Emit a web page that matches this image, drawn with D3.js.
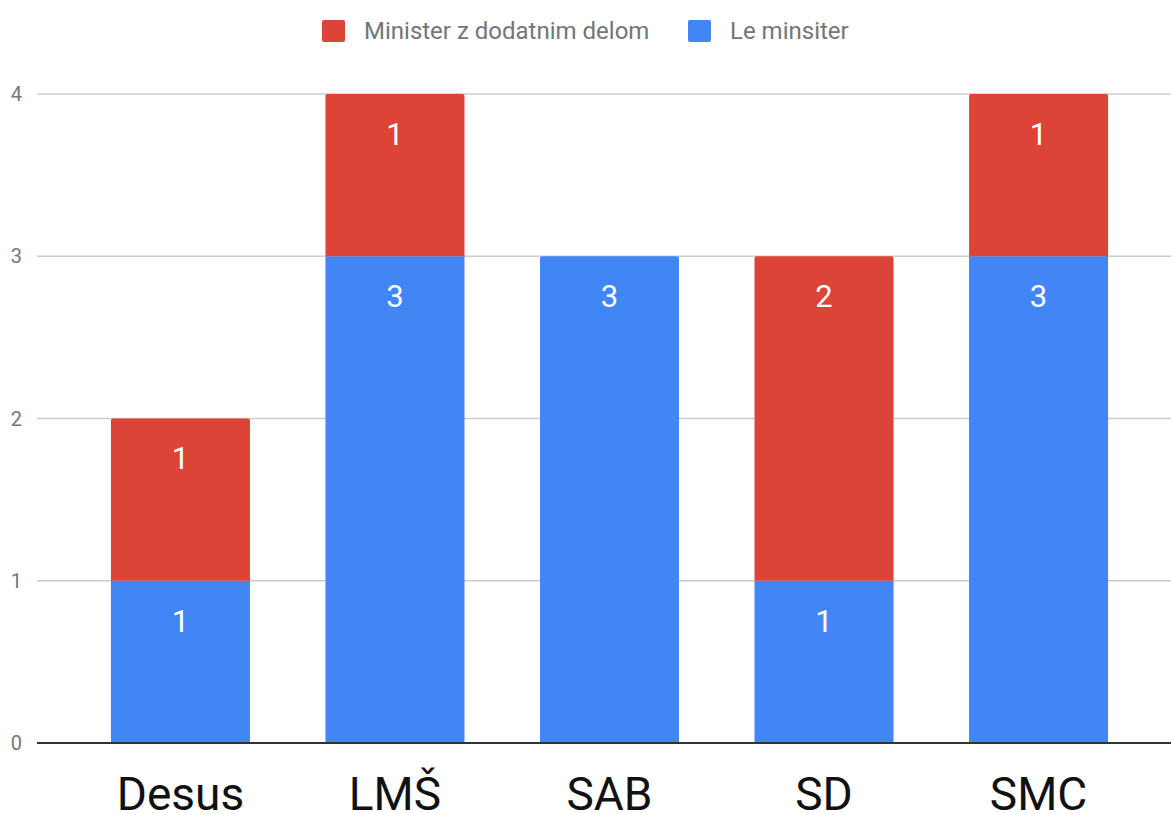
<!DOCTYPE html>
<html>
<head>
<meta charset="utf-8">
<script src="https://d3js.org/d3.v7.min.js"></script>
<style>
  body { margin: 0; background: #fff; font-family: Roboto, "Noto Sans", sans-serif; }
</style>
</head>
<body>
<script>
// chart data
var parties = ["Desus", "LMŠ", "SAB", "SD", "SMC"];
var leMinister = [1, 3, 3, 1, 3];
var dodatnimDelom = [1, 1, 0, 2, 1];
var seriesNames = ["Minister z dodatnim delom", "Le minsiter"];
var seriesColors = ["#db4437", "#4285f4"];
var yTicks = [0, 1, 2, 3, 4];

var width = 1171, height = 814;
var svg = d3.select("body").append("svg")
    .attr("width", width)
    .attr("height", height);

var x = d3.scaleBand().domain(parties).range([38, 1181]).paddingInner(0.352).paddingOuter(0.34);
var y = d3.scaleLinear().domain([0, 4]).range([743, 94]);

// gridlines + y labels
svg.selectAll(".grid").data(yTicks).enter().append("line")
    .attr("x1", 37).attr("x2", width)
    .attr("y1", function (d) { return y(d); })
    .attr("y2", function (d) { return y(d); })
    .attr("stroke", "#cccccc").attr("stroke-width", 1.5);

svg.selectAll(".ylab").data(yTicks).enter().append("text")
    .attr("x", 22).attr("y", function (d) { return y(d); })
    .attr("dy", "0.35em")
    .attr("text-anchor", "end")
    .style("font-size", "20px").style("fill", "#777")
    .text(function (d) { return d; });

// stacked rows
var rows = parties.map(function (p, i) {
  return { party: p, base: leMinister[i], extra: dodatnimDelom[i] };
});

function barPath(x0, y0, w, h, r) {
  // rounded top corners only
  return "M" + x0 + "," + (y0 + h) +
    "V" + (y0 + r) + "Q" + x0 + "," + y0 + " " + (x0 + r) + "," + y0 +
    "H" + (x0 + w - r) + "Q" + (x0 + w) + "," + y0 + " " + (x0 + w) + "," + (y0 + r) +
    "V" + (y0 + h) + "Z";
}

var bw = x.bandwidth();
rows.forEach(function (d) {
  var x0 = x(d.party);
  // blue (bottom)
  if (d.base > 0) {
    var top = y(d.base);
    svg.append("path")
      .attr("d", barPath(x0, top, bw, y(0) - top, d.extra > 0 ? 0 : 2))
      .attr("fill", seriesColors[1]);
    svg.append("text")
      .attr("x", x0 + bw / 2).attr("y", top + 40)
      .attr("dy", "0.35em").attr("text-anchor", "middle")
      .style("font-size", "31px").style("fill", "#fff")
      .text(d.base);
  }
  if (d.extra > 0) {
    var t2 = y(d.base + d.extra);
    svg.append("path")
      .attr("d", barPath(x0, t2, bw, y(d.base) - t2, 2))
      .attr("fill", seriesColors[0]);
    svg.append("text")
      .attr("x", x0 + bw / 2).attr("y", t2 + 40)
      .attr("dy", "0.35em").attr("text-anchor", "middle")
      .style("font-size", "31px").style("fill", "#fff")
      .text(d.extra);
  }
});

// baseline
svg.append("line")
  .attr("x1", 37).attr("x2", width)
  .attr("y1", y(0)).attr("y2", y(0))
  .attr("stroke", "#333").attr("stroke-width", 2);

// x labels
svg.selectAll(".xlab").data(parties).enter().append("text")
  .attr("x", function (d) { return x(d) + bw / 2; })
  .attr("y", 810)
  .attr("text-anchor", "middle")
  .style("font-size", "46px").style("fill", "#111")
  .text(function (d) { return d; });

// legend
var legX = [322, 688];
seriesNames.forEach(function (n, i) {
  svg.append("rect")
    .attr("x", legX[i]).attr("y", 20).attr("width", 23).attr("height", 22)
    .attr("rx", 2).attr("fill", seriesColors[i]);
  svg.append("text")
    .attr("x", legX[i] + 42).attr("y", 31).attr("dy", "0.35em")
    .style("font-size", "24px").style("fill", "#757575")
    .text(n);
});
</script>
</body>
</html>
